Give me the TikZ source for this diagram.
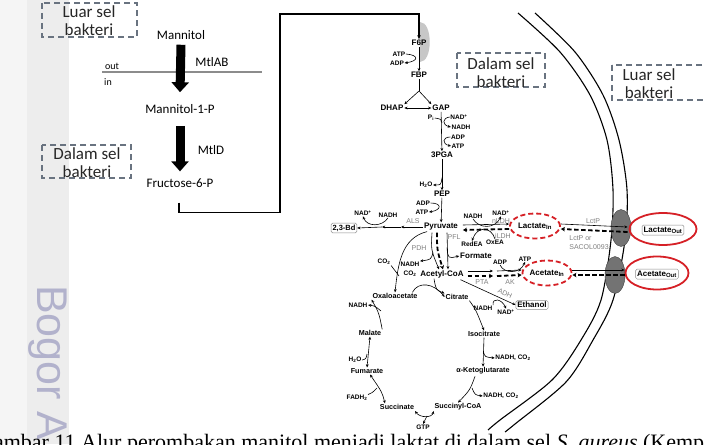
\documentclass[tikz,border=0pt]{standalone}
\usepackage{fontspec}
\setmainfont{Liberation Serif}
\newfontfamily\calfont{Carlito}
\newfontfamily\arfont{Liberation Sans}
\usetikzlibrary{arrows.meta,shapes.geometric,calc}
\definecolor{redc}{RGB}{214,32,38}
\definecolor{boxc}{RGB}{105,115,128}
\definecolor{wmc}{RGB}{178,178,204}
\tikzset{
 met/.style={font=\arfont\bfseries\fontsize{8}{9}\selectfont, inner sep=0.8pt},
 tca/.style={font=\arfont\bfseries\fontsize{7.2}{8}\selectfont, inner sep=0.8pt},
 cof/.style={font=\arfont\bfseries\fontsize{6.5}{7}\selectfont, inner sep=0.5pt},
 enz/.style={font=\arfont\fontsize{7}{9}\selectfont, text=black!50, inner sep=0.5pt},
 ln/.style={line width=0.6pt},
 ar/.style={line width=0.6pt, -{Stealth[length=3.2pt,width=2.8pt]}},
 arb/.style={line width=0.6pt, {Stealth[length=3.2pt,width=2.8pt]}-{Stealth[length=3.2pt,width=2.8pt]}},
 dsh/.style={line width=1.8pt, dash pattern=on 4.5pt off 2.5pt},
 dtip/.style={-{Stealth[length=4pt,width=4.5pt]}},
 redd/.style={ellipse, draw=redc, line width=1.8pt, dash pattern=on 5pt off 3pt, inner sep=0, font=\arfont\bfseries\fontsize{8}{9}\selectfont},
 reds/.style={ellipse, draw=redc, line width=1.8pt, inner sep=0},
 rbox/.style={draw=black!45, rounded corners=1.5pt, line width=0.5pt, inner sep=1.5pt, font=\arfont\bfseries\fontsize{8}{9}\selectfont},
 dbox/.style={draw=boxc, line width=1.2pt, dash pattern=on 6pt off 4pt},
 cal/.style={font=\calfont\fontsize{13}{15}\selectfont, inner sep=0},
 lab/.style={font=\calfont\fontsize{17}{18}\selectfont, text=black!85, inner sep=0, align=center},
 tp/.style={ellipse, fill=black!55, draw=black!75, line width=0.4pt, minimum width=20pt, minimum height=37pt, inner sep=0},
 mem/.style={line width=1.1pt},
 bigar/.style={line width=9pt, -{Triangle[length=10pt,width=17pt]}}
}
\begin{document}
\begin{tikzpicture}[x=1pt,y=-1pt]
\useasboundingbox (0,0) rectangle (706,444);
\clip (0,0) rectangle (706,444);
\fill[white] (0,0) rectangle (706,444);
\fill[black!7] (0,0) rectangle (69,444);
\fill[black!4] (0,0) rectangle (27,444);
\node[rotate=-90, anchor=base west, inner sep=0, font=\arfont\fontsize{43}{43}\selectfont, text=wmc] (wm) at (37,285) {Bogor A};

% ---------- left figure ----------
\node[cal] (mann) at (181,35) {Mannitol};
\draw[black!45, line width=1.2pt] (102,72) -- (262,72);
\node[cal, font=\calfont\fontsize{10}{11}\selectfont] (out) at (112,66) {out};
\node[cal, font=\calfont\fontsize{10}{11}\selectfont] (in) at (108,82) {in};
\node[cal] (mtlab) at (212,62) {MtlAB};
\node[cal] (m1p) at (180,109) {Mannitol-1-P};
\node[cal] (mtld) at (211,150) {MtlD};
\node[cal] (f6pl) at (180,183) {Fructose-6-P};
\draw[bigar] ($(mann.south)+(0,5)$) -- ($(m1p.north)+(0,-12)$);
\draw[bigar] ($(m1p.south)+(0,12)$) -- ($(f6pl.north)+(0,-7)$);

% dashed labels
\draw[dbox] (42,3) rectangle (137,37);
\node[lab] (l1) at (89,21) {Luar sel\\bakteri};
\draw[dbox] (42,145) rectangle (131,178);
\node[lab] (l2) at (87,162.5) {Dalam sel\\bakteri};
\draw[dbox] (457,53) rectangle (545,87);
\node[lab] (l3) at (501,72.5) {Dalam sel\\bakteri};
\draw[dbox] (612,65) rectangle (712,100);
\node[lab] (l4) at (649,83.5) {Luar sel\\bakteri};

% ---------- membrane ----------
\draw[mem] plot[smooth] coordinates {(518,13) (560,52) (590,95) (607,140) (613,190) (611,240) (601,300) (581,340) (552,380) (500,420) (488,430)};
\draw[mem] plot[smooth] coordinates {(535,13) (575,52) (603,95) (619,140) (627,190) (625,240) (613,300) (593,340) (566,382) (515,424) (505,432)};
\fill[black!22] (420,22) .. controls (433,22) and (433,62) .. (420,62) -- cycle;
\node[tp] (t1) at (621,228) {};
\node[tp] (t2) at (615,275) {};

% ---------- pathway nodes ----------
\node[met] (f6p) at (419,43) {F6P};
\node[met] (fbp) at (419,75) {FBP};
\node[met] (dhap) at (392,108) {DHAP};
\node[met] (gap) at (441,108) {GAP};
\node[met] (pga) at (442,155) {3PGA};
\node[met] (pep) at (442,194) {PEP};
\node[met] (pyr) at (441,227) {Pyruvate};
\node[met] (accoa) at (442,274) {Acetyl-CoA};
\node[met] (form) at (476,256) {Formate};
\node[rbox, font=\arfont\bfseries\fontsize{7.5}{8}\selectfont] (bd) at (344,228) {2,3-Bd};
\node[redd, minimum width=50pt, minimum height=25pt] (lin) at (535,226) {Lactate\textsubscript{In}};
\node[reds, minimum width=67pt, minimum height=32pt] (loute) at (663,229) {};
\node[rbox] (lout) at (663,230) {Lactate\textsubscript{Out}};
\node[redd, minimum width=43pt, minimum height=25pt] (ain) at (547,273) {Acetate\textsubscript{In}};
\node[reds, minimum width=63pt, minimum height=33pt] (aoute) at (657,273) {};
\node[rbox] (aout) at (657,274) {Acetate\textsubscript{Out}};
\node[rbox] (eth) at (532,305) {Ethanol};

\node[tca] (oxa) at (395,296) {Oxaloacetate};
\node[tca] (cit) at (457,297) {Citrate};
\node[tca] (iso) at (484,334) {Isocitrate};
\node[tca] (akg) at (483,371) {α-Ketoglutarate};
\node[tca] (succoa) at (458,407) {Succinyl-CoA};
\node[tca] (succ) at (397,407) {Succinate};
\node[tca] (fum) at (367,371) {Fumarate};
\node[tca] (mal) at (370,333) {Malate};

\node[cof] (atp1) at (399,54) {ATP};
\node[cof] (adp1) at (397,63) {ADP};
\node[cof] (pi) at (431,118) {P\textsubscript{i}};
\node[cof] (nadp1) at (459,117) {NAD\textsuperscript{+}};
\node[cof] (nadh1) at (461,127) {NADH};
\node[cof] (adp2) at (458,137) {ADP};
\node[cof] (atp2) at (458,146) {ATP};
\node[cof] (h2o1) at (426,185) {H\textsubscript{2}O};
\node[cof] (adp3) at (423,203) {ADP};
\node[cof] (atp3) at (422,212) {ATP};
\node[cof] (nadp3) at (363,213) {NAD\textsuperscript{+}};
\node[cof] (nadh3) at (388,215) {NADH};
\node[enz] (als) at (413,221) {ALS};
\node[enz] (pdh) at (419,248) {PDH};
\node[enz] (pfl) at (454,237) {PFL};
\node[cof] (nadh4) at (473,216) {NADH};
\node[cof] (nadp4) at (501,213) {NAD\textsuperscript{+}};
\node[enz] (nldh) at (501,221) {nLDH};
\node[enz] (ildh) at (503,236) {iLDH};
\node[cof] (redea) at (472,244) {RedEA};
\node[cof] (oxea) at (495,242) {OxEA};
\node[enz] (lctp) at (593,221) {LctP};
\node[enz, align=left] (lctp2) at (589,243) {LctP or\\SACOL0093};
\node[cof] (co2a) at (384,262) {CO\textsubscript{2}};
\node[cof] (nadh5) at (410,264) {NADH};
\node[cof] (co2b) at (410,274) {CO\textsubscript{2}};
\node[cof] (adp6) at (500,262) {ADP};
\node[cof] (atp6) at (525,259) {ATP};
\node[enz] (pta) at (482,282) {PTA};
\node[enz] (ak) at (510,282) {AK};
\node[enz, rotate=-25] (adh) at (505,293) {ADH};
\node[cof] (nadh7) at (483,308) {NADH};
\node[cof] (nadp7) at (506,312) {NAD\textsuperscript{+}};
\node[cof] (nadh8) at (358,305) {NADH};
\node[cof] (h2o2) at (355,360) {H\textsubscript{2}O};
\node[cof] (nc1) at (513,358) {NADH, CO\textsubscript{2}};
\node[cof] (nc2) at (501,396) {NADH, CO\textsubscript{2}};
\node[cof] (fadh) at (357,398) {FADH\textsubscript{2}};
\node[cof] (gtp) at (423,427) {GTP};

% ---------- connectors ----------
\coordinate (c2) at (280,14);
\draw[line width=1.1pt, -{Stealth[length=4pt,width=3.5pt]}] ($(f6pl.south)+(-1,15)$) -- ++(0,10) -| (c2) -| (f6p.north);

\draw[ar] (f6p) -- (fbp);
\draw[ar] (atp1.east) .. controls (419,55) and (419,61) .. (adp1.east);
\coordinate (br) at (419,91);
\draw[ln] (fbp) -- (br);
\draw[ar] (br) -- (dhap.north east);
\draw[ar] (br) -- (gap.north west);
\draw[arb] (dhap) -- (gap);
\draw[ar] (gap) -- (pga);
\draw[ln] (pi.east) .. controls (441,119) .. (442,123);
\draw[ar] (nadp1.west) .. controls (442,118) and (442,125) .. (nadh1.west);
\draw[ar] (adp2.west) .. controls (442,137) and (442,144) .. (atp2.west);
\draw[ar] (pga) -- (pep);
\draw[ar] ($(pga.south)!0.6!(pep.north)$) .. controls (441,185) .. (h2o1.east);
\draw[ar] (pep) -- (pyr);
\draw[ar] (adp3.east) .. controls (442,203) and (442,210) .. (atp3.east);

\coordinate (p1) at (401,227);
\coordinate (p2) at (382,227);
\draw[ar] (pyr.west) -- (p1);
\draw[ar] (p1) -- (p2);
\draw[ar] (p2) -- (bd.east);
\draw[ar] (nadh3.south) .. controls (382,227) and (367,227) .. (nadp3.south);

\draw[ar] ($(pyr.east)+(4,-2)$) -- ($(lin.west)+(0,-2)$);
\draw[dsh,dtip] ($(lin.west)+(0,3)$) -- ($(pyr.east)+(4,3)$);
\draw[ar] (nadh4.south) .. controls (479,229) and (495,229) .. (nadp4.south);
\draw[ar] (oxea.north) .. controls (491,226) and (477,226) .. (redea.north);

\draw[ar] ($(lin.east)+(0,-2)$) -- ($(loute.west)+(-1,-2)$);
\draw[dsh,dtip] ($(loute.west)+(-1,3)$) -- ($(lin.east)+(0,3)$);

\draw[ar] ($(pyr.south)+(-9,1)$) .. controls (431,250) .. ($(accoa.north)+(-3,0)$);
\draw[dsh,dtip] ($(pyr.south)+(-4,1)$) .. controls (437,250) .. ($(accoa.north)+(1,0)$);
\draw[ar] ($(pyr.south)+(6,1)$) -- ($(accoa.north)+(6,0)$);
\draw[ar] ($(pyr.south)+(6,16)$) .. controls ($(pyr.south)+(7,27)$) .. (form.west);
\draw[ar] ($(pyr.south)+(-8,21)$) .. controls ($(pyr.south)+(-10,28)$) .. (nadh5.north east);

\draw[ar] ($(pyr.south west)+(4,0)$) .. controls (401,238) and (398,265) .. (oxa.north);
\draw[ln] (co2a.south east) .. controls (393,268) .. (399,276);

\coordinate (q1) at (493,271);
\coordinate (q2) at (497,271);
\draw[ar] ($(accoa.east)+(3,-3)$) -- (q1);
\draw[ar] (q2) -- ($(ain.west)+(0,-3)$);
\draw[dsh,dtip] ($(accoa.east)+(3,2)$) -- ($(q1)+(0,5)$);
\draw[dsh,dtip] ($(q2)+(0,5)$) -- ($(ain.west)+(0,2)$);
\draw[ar] (adp6.south) .. controls (504,274) and (520,274) .. (atp6.south);

\draw[ar] ($(ain.east)+(0,-3)$) -- ($(aoute.west)+(0,-3)$);
\draw[dsh,dtip] ($(aoute.west)+(0,2)$) -- ($(ain.east)+(0,2)$);

\draw[ar] ($(accoa.south)+(-8,0)$) .. controls (436,290) .. (cit.north west);
\draw[ar] ($(oxa.north east)+(-6,0)$) .. controls (418,281) and (434,283) .. (cit.west);
\draw[ar] ($(accoa.south east)+(-4,1)$) -- (eth.west);
\draw[ar] (nadh7.north east) .. controls (492,297) and (502,299) .. (nadp7.north);

\draw[ar] (cit.south east) .. controls (476,310) .. (iso.north);
\draw[ar] (iso.south) -- (akg.north);
\draw[ar] ($(iso.south)!0.5!(akg.north)$) .. controls (485,357) .. (nc1.west);
\draw[ar] ($(akg.south)+(-8,1)$) .. controls (470,390) .. (succoa.north);
\draw[ar] (472,388) .. controls (475,395) .. (nc2.west);
\draw[arb] ($(succoa.west)+(0,4)$) .. controls (432,418) and (420,418) .. ($(succ.east)+(0,4)$);
\draw[ar] (427,416) -- (gtp.north);
\draw[arb] ($(succ.north west)+(6,0)$) .. controls (382,392) .. ($(fum.south)+(3,0)$);
\draw[ln] (377,388) .. controls (372,393) .. (fadh.north east);
\draw[arb] (fum.north) -- (mal.south);
\draw[ln] (h2o2.east) .. controls (366,359) .. (367,354);
\draw[ar] (mal.north east) .. controls (379,313) .. (oxa.south west);
\draw[ar] (381,311) .. controls (375,306) .. (nadh8.east);

% ---------- caption ----------
\node[anchor=base west, inner sep=0, font=\fontsize{22}{22}\selectfont] (cap) at (-22,449) {Gambar 11 Alur perombakan manitol menjadi laktat di dalam sel \textit{S. aureus} (Kemp};
\end{tikzpicture}
\end{document}
